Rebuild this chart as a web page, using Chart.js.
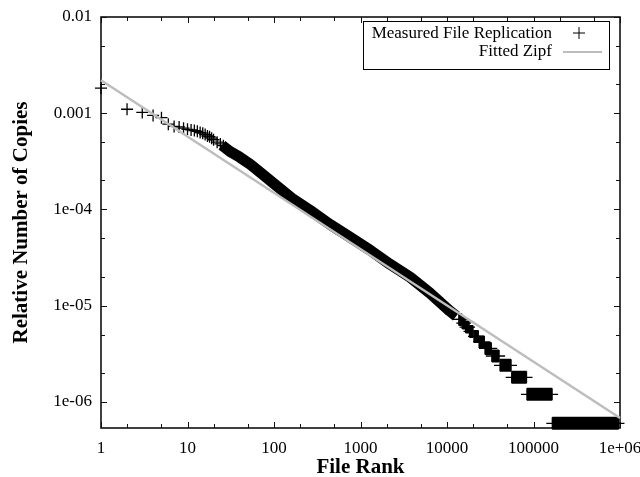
<!DOCTYPE html>
<html><head><meta charset="utf-8">
<script src="https://cdn.jsdelivr.net/npm/chart.js@4/dist/chart.umd.min.js"></script>
<style>html,body{margin:0;padding:0;background:#fff}#wrap{width:640px;height:477px}</style>
</head><body><div id="wrap"><canvas id="c" width="640" height="477"></canvas></div>
<script>
// ---- tick labels ----
const xTickValues = [1, 10, 100, 1000, 10000, 100000, 1000000];
const xTickLabels = ["1", "10", "100", "1000", "10000", "100000", "1e+06"];
const yTickValues = [1e-6, 1e-5, 1e-4, 1e-3, 1e-2];
const yTickLabels = ["1e-06", "1e-05", "1e-04", "0.001", "0.01"];

// ---- measured file replication: individually visible points (top ranks) ----
const sparseRanks  = [1, 2, 3, 4, 5, 6, 7, 8, 9, 10, 11, 12, 13, 14, 15, 16, 17, 18, 19, 20, 22, 24, 26, 28];
const sparseValues = [1.82e-3, 1.10e-3, 1.02e-3, 9.5e-4, 9.0e-4, 7.7e-4, 7.3e-4, 7.2e-4, 7.0e-4, 6.8e-4,
                      6.7e-4, 6.6e-4, 6.5e-4, 6.3e-4, 6.2e-4, 6.0e-4, 5.8e-4, 5.7e-4, 5.5e-4, 5.3e-4,
                      5.0e-4, 4.8e-4, 4.6e-4, 4.35e-4];

// ---- measured: dense middle band (ranks read along the band) ----
const bandRanks  = [25, 31, 40, 53, 69, 97, 166, 261, 444, 756, 1290, 2190, 3740, 6360, 10800, 12800];
const bandValues = [4.65e-4, 4.0e-4, 3.5e-4, 2.95e-4, 2.44e-4, 1.9e-4, 1.28e-4, 9.8e-5, 7.0e-5, 5.15e-5,
                    3.78e-5, 2.7e-5, 1.98e-5, 1.35e-5, 8.8e-6, 7.8e-6];

// ---- measured: tail plateaus (files with 12, 11, ... 1 copies) ----
const levelValues     = [7.2e-6, 6.6e-6, 6.0e-6, 5.4e-6, 4.8e-6, 4.2e-6, 3.6e-6, 3.0e-6, 2.4e-6, 1.8e-6, 1.2e-6, 6.0e-7];
const levelStartRanks = [13700, 15000, 16400, 18200, 20500, 23500, 27500, 33000, 41000, 56000, 84000, 165000];
const levelEndRanks   = [14800, 16200, 18000, 20000, 23000, 27000, 32500, 40000, 55000, 83000, 164000, 960000];

// ---- fitted Zipf line ----
const zipfRanks  = [1, 1000000];
const zipfValues = [2.2e-3, 6.8e-7];

const SERIF = '"Liberation Serif", "Times New Roman", serif';

const pts = (xs, ys) => xs.map((x, i) => ({x: x, y: ys[i]}));
const levelData = [];
levelValues.forEach((v, i) => {
  levelData.push({x: levelStartRanks[i], y: v});
  levelData.push({x: levelEndRanks[i], y: v});
  levelData.push({x: levelEndRanks[i], y: null});
});

const frame = {
  id: 'frame',
  beforeDatasetsDraw(chart) {
    const {ctx, chartArea: a, scales: {x, y}} = chart;
    ctx.save();
    ctx.strokeStyle = '#111';
    ctx.lineWidth = 1;
    const tx = (v, len) => {
      const p = Math.round(x.getPixelForValue(v)) + 0.5;
      ctx.beginPath();
      ctx.moveTo(p, a.bottom); ctx.lineTo(p, a.bottom - len);
      ctx.moveTo(p, a.top); ctx.lineTo(p, a.top + len);
      ctx.stroke();
    };
    const ty = (v, len) => {
      const p = Math.round(y.getPixelForValue(v)) + 0.5;
      ctx.beginPath();
      ctx.moveTo(a.left, p); ctx.lineTo(a.left + len, p);
      ctx.moveTo(a.right, p); ctx.lineTo(a.right - len, p);
      ctx.stroke();
    };
    xTickValues.forEach(v => {
      tx(v, 6);
      [2, 5].forEach(m => { const mv = v * m; if (mv < x.max) tx(mv, 4); });
    });
    [1e-7].concat(yTickValues).forEach(v => {
      if (v >= y.min) ty(v, 6);
      [2, 5].forEach(m => { const mv = v * m; if (mv > y.min && mv < y.max) ty(mv, 4); });
    });
    ctx.lineWidth = 1.6;
    ctx.strokeRect(a.left, a.top, a.right - a.left, a.bottom - a.top);
    ctx.restore();
  }
};

const legendBox = {
  id: 'legendBox',
  afterDraw(chart) {
    const {ctx, chartArea: a} = chart;
    const ds = chart.data.datasets;
    const zipf = ds[0], meas = ds[1];
    const right = a.right - 11, top = a.top + 4, w = 246, h = 48;
    ctx.save();
    ctx.fillStyle = '#fff';
    ctx.fillRect(right - w, top, w, h);
    ctx.strokeStyle = '#000';
    ctx.lineWidth = 1;
    ctx.strokeRect(right - w + 0.5, top + 0.5, w, h);
    ctx.font = '17px ' + SERIF;
    ctx.fillStyle = '#000';
    ctx.textAlign = 'right';
    ctx.textBaseline = 'middle';
    ctx.fillText(meas.label, right - 57, top + 13);
    ctx.fillText(zipf.label, right - 57, top + 31);
    Chart.helpers.drawPoint(ctx, {pointStyle: 'cross', radius: 6, borderWidth: 1.3}, right - 30, top + 12);
    ctx.strokeStyle = zipf.borderColor;
    ctx.lineWidth = 2;
    ctx.beginPath();
    ctx.moveTo(right - 46, top + 31); ctx.lineTo(right - 7, top + 31);
    ctx.stroke();
    ctx.restore();
  }
};

new Chart(document.getElementById('c'), {
  type: 'scatter',
  data: {
    datasets: [
      {label: 'Fitted Zipf', data: pts(zipfRanks, zipfValues), showLine: true,
       borderColor: '#bdbdbd', borderWidth: 2.5, pointRadius: 0, clip: false},
      {label: 'Measured File Replication', data: pts(sparseRanks, sparseValues), showLine: false,
       pointStyle: 'cross', pointRadius: 6, pointBorderWidth: 1.3, borderColor: '#000', backgroundColor: '#000', clip: false},
      {label: 'Measured File Replication', data: pts(bandRanks, bandValues), showLine: true,
       borderColor: '#000', borderWidth: 11, borderCapStyle: 'butt', borderJoinStyle: 'round', pointRadius: 0, clip: false},
      {label: 'Measured File Replication', data: levelData, showLine: true, spanGaps: false,
       borderColor: '#000', backgroundColor: '#000', borderWidth: 13, borderCapStyle: 'butt',
       pointStyle: 'cross', pointRadius: 6, pointBorderWidth: 1.3, clip: false}
    ]
  },
  options: {
    responsive: false,
    animation: false,
    devicePixelRatio: 1,
    layout: {padding: {left: 0, top: 17, right: 20, bottom: 0}},
    plugins: {legend: {display: false}, tooltip: {enabled: false}},
    scales: {
      x: {
        type: 'logarithmic', min: 1, max: 1000000,
        grid: {display: false, drawTicks: false}, border: {display: false},
        afterBuildTicks: s => { s.ticks = xTickValues.map(v => ({value: v})); },
        afterFit: s => { s.height = 49; s.paddingLeft = 0; s.paddingRight = 0; },
        ticks: {autoSkip: false, maxRotation: 0, padding: 10, color: '#000',
                font: {family: SERIF, size: 17},
                callback: (v, i) => xTickLabels[i]},
        title: {display: true, text: 'File Rank', color: '#000', padding: {top: 0, bottom: 0},
                font: {family: SERIF, size: 21, weight: 'bold', lineHeight: 0.9}}
      },
      y: {
        type: 'logarithmic', min: 5.36e-7, max: 0.01,
        grid: {display: false, drawTicks: false}, border: {display: false},
        afterBuildTicks: s => { s.ticks = yTickValues.map(v => ({value: v})); },
        afterFit: s => { s.width = 101; s.paddingTop = 0; s.paddingBottom = 0; },
        ticks: {autoSkip: false, padding: 9, color: '#000',
                font: {family: SERIF, size: 17},
                callback: (v, i) => yTickLabels[i]},
        title: {display: true, text: 'Relative Number of Copies', color: '#000', padding: {top: 11, bottom: 0},
                font: {family: SERIF, size: 21, weight: 'bold', lineHeight: 1}}
      }
    }
  },
  plugins: [frame, legendBox]
});
</script>
</body></html>
